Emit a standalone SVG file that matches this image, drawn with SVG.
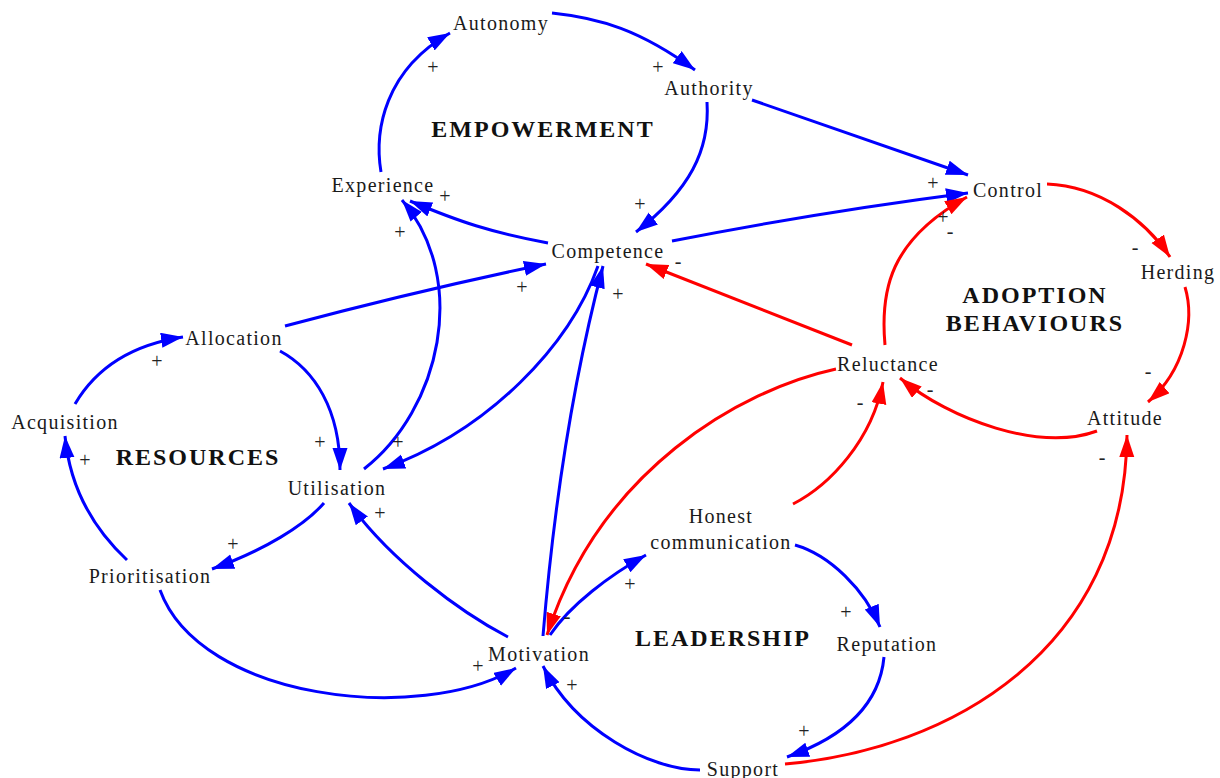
<svg xmlns="http://www.w3.org/2000/svg" width="1220" height="778" viewBox="0 0 1220 778">
<style>
  .bg{fill:#ffffff}
  .n{font-family:"Liberation Serif","Times New Roman",serif;font-size:20px;fill:#1a1a1a;text-anchor:middle;letter-spacing:1.3px}
  .t{font-family:"Liberation Serif","Times New Roman",serif;font-size:24px;font-weight:bold;fill:#111;text-anchor:middle;letter-spacing:2px}
  .s{font-family:"Liberation Serif","Times New Roman",serif;font-size:20px;fill:#222;text-anchor:middle}
  .b{fill:none;stroke:#0000ff;stroke-width:3;marker-end:url(#ab)}
  .r{fill:none;stroke:#ff0000;stroke-width:3;marker-end:url(#ar)}
</style>
<defs>
  <marker id="ab" markerUnits="userSpaceOnUse" markerWidth="24" markerHeight="16" refX="22" refY="7.5" orient="auto">
    <path d="M0,0 L22,7.5 L0,15 z" fill="#0000ff"/>
  </marker>
  <marker id="ar" markerUnits="userSpaceOnUse" markerWidth="24" markerHeight="16" refX="22" refY="7.5" orient="auto">
    <path d="M0,0 L22,7.5 L0,15 z" fill="#ff0000"/>
  </marker>
</defs>
<rect class="bg" x="0" y="0" width="1220" height="778"/>

<g id="connectors">
  <!-- EMPOWERMENT loop -->
  <path class="b" d="M381,172 C374,130 385,70 450,33"/>
  <path class="b" d="M552,13 C600,18 640,30 695,70"/>
  <path class="b" d="M707,102 C710,150 690,190 636,232"/>
  <path class="b" d="M548,243 C490,232 460,222 410,201"/>
  <!-- to Control -->
  <path class="b" d="M752,100 L968,175"/>
  <path class="b" d="M672,241 Q820,212 968,193"/>
  <!-- ADOPTION loop -->
  <path class="r" d="M885,345 C880,290 890,240 967,197"/>
  <path class="r" d="M1047,184 C1100,186 1145,220 1170,257"/>
  <path class="r" d="M1185,287 C1195,320 1185,370 1148,402"/>
  <path class="r" d="M1097,431 C1040,452 950,420 900,378"/>
  <!-- cross red links -->
  <path class="r" d="M852,345 L646,264"/>
  <path class="r" d="M836,369 C740,390 600,470 547,635"/>
  <path class="r" d="M793,504 C830,485 872,440 883,382"/>
  <path class="r" d="M785,764 C950,750 1125,650 1127,435"/>
  <!-- RESOURCES loop -->
  <path class="b" d="M75,404 C95,370 130,345 183,337"/>
  <path class="b" d="M280,351 C315,370 340,410 340,470"/>
  <path class="b" d="M324,503 C305,525 265,550 212,569"/>
  <path class="b" d="M127,560 C95,530 70,490 65,436"/>
  <!-- cross blue links -->
  <path class="b" d="M285,326 Q420,290 546,264"/>
  <path class="b" d="M364,469 C440,410 470,280 402,200"/>
  <path class="b" d="M598,266 C570,345 490,430 383,469"/>
  <path class="b" d="M543,636 Q560,430 603,266"/>
  <path class="b" d="M508,637 C460,612 390,560 349,503"/>
  <path class="b" d="M160,590 C200,700 420,725 516,668"/>
  <!-- LEADERSHIP loop -->
  <path class="b" d="M550,635 C570,605 610,575 646,555"/>
  <path class="b" d="M795,545 C830,555 865,590 880,627"/>
  <path class="b" d="M884,657 C880,700 850,735 787,757"/>
  <path class="b" d="M700,770 C650,770 575,730 543,666"/>
</g>

<g id="polarities">
  <text class="s" x="433" y="74">+</text>
  <text class="s" x="658" y="74">+</text>
  <text class="s" x="640" y="211">+</text>
  <text class="s" x="445" y="203">+</text>
  <text class="s" x="933" y="190">+</text>
  <text class="s" x="943" y="224">+</text>
  <text class="s" x="950" y="238">-</text>
  <text class="s" x="1135" y="254">-</text>
  <text class="s" x="1148" y="378">-</text>
  <text class="s" x="930" y="396">-</text>
  <text class="s" x="678" y="268">-</text>
  <text class="s" x="860" y="409">-</text>
  <text class="s" x="1102" y="464">-</text>
  <text class="s" x="567" y="623">-</text>
  <text class="s" x="157" y="368">+</text>
  <text class="s" x="320" y="449">+</text>
  <text class="s" x="233" y="551">+</text>
  <text class="s" x="85" y="467">+</text>
  <text class="s" x="522" y="294">+</text>
  <text class="s" x="400" y="239">+</text>
  <text class="s" x="398" y="449">+</text>
  <text class="s" x="618" y="301">+</text>
  <text class="s" x="380" y="520">+</text>
  <text class="s" x="478" y="673">+</text>
  <text class="s" x="630" y="591">+</text>
  <text class="s" x="846" y="619">+</text>
  <text class="s" x="804" y="738">+</text>
  <text class="s" x="572" y="692">+</text>
</g>

<g id="loop-titles">
  <text class="t" x="543" y="137">EMPOWERMENT</text>
  <text class="t" x="1035" y="303">ADOPTION</text>
  <text class="t" x="1035" y="331">BEHAVIOURS</text>
  <text class="t" x="198" y="465">RESOURCES</text>
  <text class="t" x="723" y="646">LEADERSHIP</text>
</g>

<g id="node-autonomy"><text class="n" x="501" y="30">Autonomy</text></g>
<g id="node-authority"><text class="n" x="709" y="95">Authority</text></g>
<g id="node-experience"><text class="n" x="383" y="192">Experience</text></g>
<g id="node-competence"><text class="n" x="608" y="258">Competence</text></g>
<g id="node-control"><text class="n" x="1008" y="197">Control</text></g>
<g id="node-herding"><text class="n" x="1178" y="279">Herding</text></g>
<g id="node-reluctance"><text class="n" x="888" y="371">Reluctance</text></g>
<g id="node-attitude"><text class="n" x="1125" y="425">Attitude</text></g>
<g id="node-allocation"><text class="n" x="234" y="345">Allocation</text></g>
<g id="node-acquisition"><text class="n" x="65" y="429">Acquisition</text></g>
<g id="node-utilisation"><text class="n" x="337" y="495">Utilisation</text></g>
<g id="node-prioritisation"><text class="n" x="150" y="583">Prioritisation</text></g>
<g id="node-motivation"><text class="n" x="539" y="661">Motivation</text></g>
<g id="node-honest-communication"><text class="n" x="721" y="523">Honest</text><text class="n" x="721" y="549">communication</text></g>
<g id="node-reputation"><text class="n" x="887" y="651">Reputation</text></g>
<g id="node-support"><text class="n" x="743" y="776">Support</text></g>
</svg>
